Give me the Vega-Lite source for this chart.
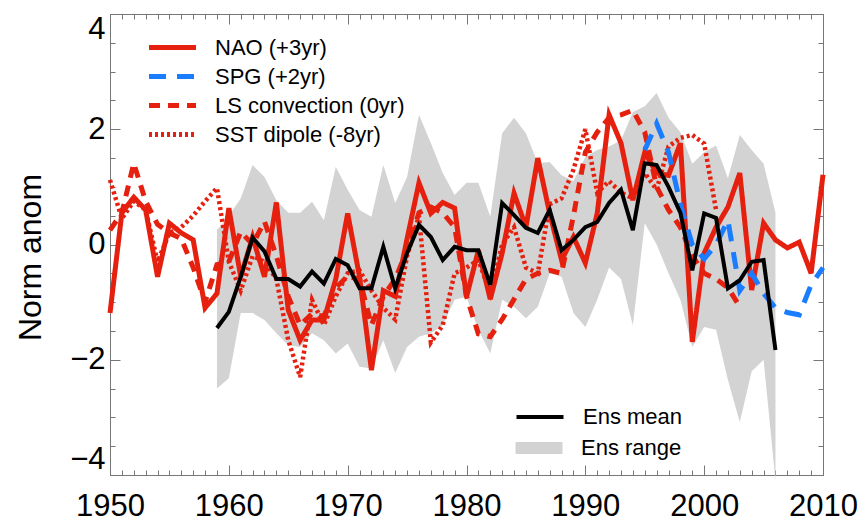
{
  "$schema": "https://vega.github.io/schema/vega-lite/v6.json",
  "width": 713,
  "height": 461,
  "autosize": {"type": "none"},
  "padding": {"left": 110, "top": 14, "right": 43, "bottom": 49},
  "background": "white",
  "config": {
    "view": {"stroke": "#777", "strokeWidth": 1},
    "font": "Liberation Sans",
    "axis": {"domain": false, "grid": false, "tickColor": "#777", "tickWidth": 1, "labelColor": "black", "labelFont": "Liberation Sans", "labelFontSize": 31, "titleFont": "Liberation Sans", "titleFontSize": 32, "titleFontWeight": "normal", "titleColor": "black"},
    "legend": {"labelFont": "Liberation Sans", "labelFontSize": 22, "labelColor": "black", "padding": 0, "labelLimit": 0}
  },
  "datasets": {
    "idx": [
      {"year":1950,"value":-1.19,"series":"NAO (+3yr)"},{"year":1951,"value":0.55,"series":"NAO (+3yr)"},{"year":1952,"value":0.82,"series":"NAO (+3yr)"},{"year":1953,"value":0.6,"series":"NAO (+3yr)"},{"year":1954,"value":-0.56,"series":"NAO (+3yr)"},{"year":1955,"value":0.37,"series":"NAO (+3yr)"},{"year":1956,"value":0.2,"series":"NAO (+3yr)"},{"year":1957,"value":0.08,"series":"NAO (+3yr)"},{"year":1958,"value":-1.1,"series":"NAO (+3yr)"},{"year":1959,"value":-0.85,"series":"NAO (+3yr)"},
      {"year":1960,"value":0.63,"series":"NAO (+3yr)"},{"year":1961,"value":-0.56,"series":"NAO (+3yr)"},{"year":1962,"value":0.13,"series":"NAO (+3yr)"},{"year":1963,"value":-0.56,"series":"NAO (+3yr)"},{"year":1964,"value":0.73,"series":"NAO (+3yr)"},{"year":1965,"value":-1.14,"series":"NAO (+3yr)"},{"year":1966,"value":-1.66,"series":"NAO (+3yr)"},{"year":1967,"value":-1.31,"series":"NAO (+3yr)"},{"year":1968,"value":-1.31,"series":"NAO (+3yr)"},{"year":1969,"value":-0.6,"series":"NAO (+3yr)"},
      {"year":1970,"value":0.54,"series":"NAO (+3yr)"},{"year":1971,"value":-0.56,"series":"NAO (+3yr)"},{"year":1972,"value":-2.18,"series":"NAO (+3yr)"},{"year":1973,"value":-0.8,"series":"NAO (+3yr)"},{"year":1974,"value":-0.9,"series":"NAO (+3yr)"},{"year":1975,"value":0.1,"series":"NAO (+3yr)"},{"year":1976,"value":1.07,"series":"NAO (+3yr)"},{"year":1977,"value":0.54,"series":"NAO (+3yr)"},{"year":1978,"value":0.73,"series":"NAO (+3yr)"},{"year":1979,"value":0.63,"series":"NAO (+3yr)"},
      {"year":1980,"value":-0.91,"series":"NAO (+3yr)"},{"year":1981,"value":-0.1,"series":"NAO (+3yr)"},{"year":1982,"value":-0.95,"series":"NAO (+3yr)"},{"year":1983,"value":-0.15,"series":"NAO (+3yr)"},{"year":1984,"value":0.89,"series":"NAO (+3yr)"},{"year":1985,"value":0.3,"series":"NAO (+3yr)"},{"year":1986,"value":1.5,"series":"NAO (+3yr)"},{"year":1987,"value":0.54,"series":"NAO (+3yr)"},{"year":1988,"value":-0.27,"series":"NAO (+3yr)"},{"year":1989,"value":0.13,"series":"NAO (+3yr)"},
      {"year":1990,"value":-0.32,"series":"NAO (+3yr)"},{"year":1991,"value":0.54,"series":"NAO (+3yr)"},{"year":1992,"value":2.25,"series":"NAO (+3yr)"},{"year":1993,"value":1.76,"series":"NAO (+3yr)"},{"year":1994,"value":0.77,"series":"NAO (+3yr)"},{"year":1995,"value":1.6,"series":"NAO (+3yr)"},{"year":1996,"value":1.24,"series":"NAO (+3yr)"},{"year":1997,"value":1.2,"series":"NAO (+3yr)"},{"year":1998,"value":1.76,"series":"NAO (+3yr)"},{"year":1999,"value":-1.69,"series":"NAO (+3yr)"},
      {"year":2000,"value":-0.15,"series":"NAO (+3yr)"},{"year":2001,"value":0.3,"series":"NAO (+3yr)"},{"year":2002,"value":0.65,"series":"NAO (+3yr)"},{"year":2003,"value":1.24,"series":"NAO (+3yr)"},{"year":2004,"value":-0.79,"series":"NAO (+3yr)"},{"year":2005,"value":0.37,"series":"NAO (+3yr)"},{"year":2006,"value":0.08,"series":"NAO (+3yr)"},{"year":2007,"value":-0.06,"series":"NAO (+3yr)"},{"year":2008,"value":0.04,"series":"NAO (+3yr)"},{"year":2009,"value":-0.5,"series":"NAO (+3yr)"},{"year":2010,"value":1.21,"series":"NAO (+3yr)"},

      {"year":1995,"value":1.64,"series":"SPG (+2yr)"},{"year":1996,"value":2.1,"series":"SPG (+2yr)"},{"year":1997,"value":1.6,"series":"SPG (+2yr)"},{"year":1998,"value":0.7,"series":"SPG (+2yr)"},{"year":1999,"value":0.0,"series":"SPG (+2yr)"},{"year":2000,"value":-0.25,"series":"SPG (+2yr)"},{"year":2001,"value":0.0,"series":"SPG (+2yr)"},{"year":2002,"value":0.42,"series":"SPG (+2yr)"},{"year":2003,"value":-0.8,"series":"SPG (+2yr)"},{"year":2004,"value":-0.5,"series":"SPG (+2yr)"},{"year":2005,"value":-0.85,"series":"SPG (+2yr)"},{"year":2006,"value":-1.1,"series":"SPG (+2yr)"},{"year":2007,"value":-1.18,"series":"SPG (+2yr)"},{"year":2008,"value":-1.22,"series":"SPG (+2yr)"},{"year":2009,"value":-0.7,"series":"SPG (+2yr)"},{"year":2010,"value":-0.4,"series":"SPG (+2yr)"},

      {"year":1950,"value":0.25,"series":"LS convection (0yr)"},{"year":1951,"value":0.55,"series":"LS convection (0yr)"},{"year":1952,"value":1.41,"series":"LS convection (0yr)"},{"year":1953,"value":0.75,"series":"LS convection (0yr)"},{"year":1954,"value":0.35,"series":"LS convection (0yr)"},{"year":1955,"value":0.2,"series":"LS convection (0yr)"},{"year":1956,"value":0.1,"series":"LS convection (0yr)"},{"year":1957,"value":-0.4,"series":"LS convection (0yr)"},{"year":1958,"value":-1.0,"series":"LS convection (0yr)"},{"year":1959,"value":-0.35,"series":"LS convection (0yr)"},
      {"year":1960,"value":-0.3,"series":"LS convection (0yr)"},{"year":1961,"value":0.22,"series":"LS convection (0yr)"},{"year":1962,"value":0.0,"series":"LS convection (0yr)"},{"year":1963,"value":0.4,"series":"LS convection (0yr)"},{"year":1964,"value":-0.2,"series":"LS convection (0yr)"},{"year":1965,"value":-0.9,"series":"LS convection (0yr)"},{"year":1966,"value":-1.4,"series":"LS convection (0yr)"},{"year":1967,"value":-1.2,"series":"LS convection (0yr)"},{"year":1968,"value":-1.25,"series":"LS convection (0yr)"},{"year":1969,"value":-0.75,"series":"LS convection (0yr)"},
      {"year":1970,"value":-0.55,"series":"LS convection (0yr)"},{"year":1971,"value":-0.6,"series":"LS convection (0yr)"},{"year":1972,"value":-1.4,"series":"LS convection (0yr)"},{"year":1973,"value":-0.9,"series":"LS convection (0yr)"},{"year":1974,"value":-0.6,"series":"LS convection (0yr)"},{"year":1975,"value":-0.1,"series":"LS convection (0yr)"},{"year":1976,"value":0.55,"series":"LS convection (0yr)"},{"year":1977,"value":0.65,"series":"LS convection (0yr)"},{"year":1978,"value":0.55,"series":"LS convection (0yr)"},{"year":1979,"value":0.3,"series":"LS convection (0yr)"},
      {"year":1980,"value":-0.9,"series":"LS convection (0yr)"},{"year":1981,"value":-1.55,"series":"LS convection (0yr)"},{"year":1982,"value":-1.6,"series":"LS convection (0yr)"},{"year":1983,"value":-1.3,"series":"LS convection (0yr)"},{"year":1984,"value":-0.95,"series":"LS convection (0yr)"},{"year":1985,"value":-0.6,"series":"LS convection (0yr)"},{"year":1986,"value":-0.5,"series":"LS convection (0yr)"},{"year":1987,"value":-0.45,"series":"LS convection (0yr)"},{"year":1988,"value":-0.5,"series":"LS convection (0yr)"},{"year":1989,"value":0.5,"series":"LS convection (0yr)"},
      {"year":1990,"value":1.6,"series":"LS convection (0yr)"},{"year":1991,"value":1.95,"series":"LS convection (0yr)"},{"year":1992,"value":2.2,"series":"LS convection (0yr)"},{"year":1993,"value":2.25,"series":"LS convection (0yr)"},{"year":1994,"value":2.33,"series":"LS convection (0yr)"},{"year":1995,"value":1.95,"series":"LS convection (0yr)"},{"year":1996,"value":1.0,"series":"LS convection (0yr)"},{"year":1997,"value":0.6,"series":"LS convection (0yr)"},{"year":1998,"value":0.3,"series":"LS convection (0yr)"},{"year":1999,"value":-0.2,"series":"LS convection (0yr)"},
      {"year":2000,"value":-0.5,"series":"LS convection (0yr)"},{"year":2001,"value":-0.6,"series":"LS convection (0yr)"},{"year":2002,"value":-0.75,"series":"LS convection (0yr)"},{"year":2003,"value":-1.08,"series":"LS convection (0yr)"},

      {"year":1950,"value":1.12,"series":"SST dipole (-8yr)"},{"year":1951,"value":0.45,"series":"SST dipole (-8yr)"},{"year":1952,"value":0.75,"series":"SST dipole (-8yr)"},{"year":1953,"value":0.6,"series":"SST dipole (-8yr)"},{"year":1954,"value":-0.3,"series":"SST dipole (-8yr)"},{"year":1955,"value":0.2,"series":"SST dipole (-8yr)"},{"year":1956,"value":0.3,"series":"SST dipole (-8yr)"},{"year":1957,"value":0.5,"series":"SST dipole (-8yr)"},{"year":1958,"value":0.75,"series":"SST dipole (-8yr)"},{"year":1959,"value":0.98,"series":"SST dipole (-8yr)"},
      {"year":1960,"value":-0.3,"series":"SST dipole (-8yr)"},{"year":1961,"value":-0.8,"series":"SST dipole (-8yr)"},{"year":1962,"value":-0.2,"series":"SST dipole (-8yr)"},{"year":1963,"value":-0.3,"series":"SST dipole (-8yr)"},{"year":1964,"value":-0.6,"series":"SST dipole (-8yr)"},{"year":1965,"value":-1.66,"series":"SST dipole (-8yr)"},{"year":1966,"value":-2.3,"series":"SST dipole (-8yr)"},{"year":1967,"value":-0.96,"series":"SST dipole (-8yr)"},{"year":1968,"value":-1.4,"series":"SST dipole (-8yr)"},{"year":1969,"value":-0.9,"series":"SST dipole (-8yr)"},
      {"year":1970,"value":-0.5,"series":"SST dipole (-8yr)"},{"year":1971,"value":-0.45,"series":"SST dipole (-8yr)"},{"year":1972,"value":-0.8,"series":"SST dipole (-8yr)"},{"year":1973,"value":-1.1,"series":"SST dipole (-8yr)"},{"year":1974,"value":-1.3,"series":"SST dipole (-8yr)"},{"year":1975,"value":-0.2,"series":"SST dipole (-8yr)"},{"year":1976,"value":0.5,"series":"SST dipole (-8yr)"},{"year":1977,"value":-1.7,"series":"SST dipole (-8yr)"},{"year":1978,"value":-1.4,"series":"SST dipole (-8yr)"},{"year":1979,"value":-0.5,"series":"SST dipole (-8yr)"},
      {"year":1980,"value":-0.4,"series":"SST dipole (-8yr)"},{"year":1981,"value":-0.27,"series":"SST dipole (-8yr)"},{"year":1982,"value":-0.85,"series":"SST dipole (-8yr)"},{"year":1983,"value":0.0,"series":"SST dipole (-8yr)"},{"year":1984,"value":0.3,"series":"SST dipole (-8yr)"},{"year":1985,"value":-0.4,"series":"SST dipole (-8yr)"},{"year":1986,"value":-0.5,"series":"SST dipole (-8yr)"},{"year":1987,"value":0.7,"series":"SST dipole (-8yr)"},{"year":1988,"value":0.8,"series":"SST dipole (-8yr)"},{"year":1989,"value":1.3,"series":"SST dipole (-8yr)"},
      {"year":1990,"value":2.0,"series":"SST dipole (-8yr)"},{"year":1991,"value":0.9,"series":"SST dipole (-8yr)"},{"year":1992,"value":1.1,"series":"SST dipole (-8yr)"},{"year":1993,"value":0.9,"series":"SST dipole (-8yr)"},{"year":1994,"value":0.8,"series":"SST dipole (-8yr)"},{"year":1995,"value":1.24,"series":"SST dipole (-8yr)"},{"year":1996,"value":0.95,"series":"SST dipole (-8yr)"},{"year":1997,"value":1.7,"series":"SST dipole (-8yr)"},{"year":1998,"value":1.85,"series":"SST dipole (-8yr)"},{"year":1999,"value":1.9,"series":"SST dipole (-8yr)"},
      {"year":2000,"value":1.75,"series":"SST dipole (-8yr)"},{"year":2001,"value":0.6,"series":"SST dipole (-8yr)"}
    ],
    "ens": [
      {"year":1959,"mean":-1.45,"lo":-2.5,"hi":0.25},{"year":1960,"mean":-1.17,"lo":-2.32,"hi":0.5},{"year":1961,"mean":-0.56,"lo":-1.19,"hi":0.8},{"year":1962,"mean":0.12,"lo":-1.19,"hi":1.38},{"year":1963,"mean":-0.12,"lo":-1.31,"hi":1.17},{"year":1964,"mean":-0.6,"lo":-1.54,"hi":0.77},{"year":1965,"mean":-0.6,"lo":-1.75,"hi":0.55},{"year":1966,"mean":-0.73,"lo":-1.78,"hi":0.55},{"year":1967,"mean":-0.47,"lo":-1.54,"hi":0.74},{"year":1968,"mean":-0.68,"lo":-1.66,"hi":0.42},
      {"year":1969,"mean":-0.25,"lo":-1.89,"hi":1.35},{"year":1970,"mean":-0.36,"lo":-1.72,"hi":0.95},{"year":1971,"mean":-0.76,"lo":-2.12,"hi":0.6},{"year":1972,"mean":-0.76,"lo":-2.15,"hi":0.48},{"year":1973,"mean":-0.04,"lo":-1.66,"hi":1.38},{"year":1974,"mean":-0.76,"lo":-2.23,"hi":0.72},{"year":1975,"mean":-0.15,"lo":-1.78,"hi":1.17},{"year":1976,"mean":0.34,"lo":-1.6,"hi":2.25},{"year":1977,"mean":0.13,"lo":-1.54,"hi":1.76},{"year":1978,"mean":-0.27,"lo":-1.4,"hi":1.24},
      {"year":1979,"mean":-0.04,"lo":-0.96,"hi":0.86},{"year":1980,"mean":-0.1,"lo":-0.91,"hi":1.07},{"year":1981,"mean":-0.1,"lo":-1.48,"hi":1.07},{"year":1982,"mean":-0.7,"lo":-1.89,"hi":0.48},{"year":1983,"mean":0.72,"lo":-0.96,"hi":1.93},{"year":1984,"mean":0.51,"lo":-1.08,"hi":2.2},{"year":1985,"mean":0.29,"lo":-1.28,"hi":1.93},{"year":1986,"mean":0.2,"lo":-1.08,"hi":1.41},{"year":1987,"mean":0.6,"lo":-0.5,"hi":1.43},{"year":1988,"mean":-0.1,"lo":-0.56,"hi":1.2},
      {"year":1989,"mean":0.08,"lo":-1.19,"hi":1.1},{"year":1990,"mean":0.3,"lo":-1.43,"hi":1.52},{"year":1991,"mean":0.39,"lo":-0.96,"hi":1.64},{"year":1992,"mean":0.72,"lo":-0.4,"hi":1.7},{"year":1993,"mean":0.95,"lo":-0.6,"hi":1.81},{"year":1994,"mean":0.25,"lo":-1.4,"hi":2.3},{"year":1995,"mean":1.41,"lo":0.37,"hi":2.4},{"year":1996,"mean":1.38,"lo":0.0,"hi":2.63},{"year":1997,"mean":1.0,"lo":-0.5,"hi":2.2},{"year":1998,"mean":0.55,"lo":-0.96,"hi":1.95},
      {"year":1999,"mean":-0.45,"lo":-1.78,"hi":1.4},{"year":2000,"mean":0.54,"lo":-1.43,"hi":1.6},{"year":2001,"mean":0.46,"lo":-1.48,"hi":1.72},{"year":2002,"mean":-0.76,"lo":-2.35,"hi":1.15},{"year":2003,"mean":-0.62,"lo":-3.08,"hi":1.9},{"year":2004,"mean":-0.3,"lo":-2.2,"hi":1.64},{"year":2005,"mean":-0.27,"lo":-2.0,"hi":1.4},{"year":2006,"mean":-1.83,"lo":-4.1,"hi":0.55}
    ]
  },
  "layer": [
    {
      "data": {"name": "ens"},
      "mark": {"type": "area", "opacity": 1},
      "encoding": {
        "x": {"field": "year", "type": "quantitative", "scale": {"domain": [1950, 2010], "nice": false, "zero": false},
              "axis": {"orient": "bottom", "values": [1950,1960,1970,1980,1990,2000,2010], "format": "d", "tickSize": -10, "labelPadding": 26, "labelFlush": false, "labelOverlap": false, "title": null}},
        "y": {"field": "lo", "type": "quantitative", "scale": {"domain": [-4, 4], "nice": false, "zero": false},
              "axis": {"orient": "left", "values": [-4,-2,0,2,4], "format": "d", "tickSize": -10, "labelPadding": 15, "labelFlush": true, "labelOverlap": false, "title": "Norm anom", "titleAngle": -90, "titleX": -80, "titleY": 243, "titleAlign": "center", "titleBaseline": "middle"}},
        "y2": {"field": "hi"},
        "fill": {"datum": "Ens range", "type": "nominal", "scale": {"range": ["#d3d3d3"]},
                 "legend": {"orient": "none", "legendX": 418, "legendY": 423, "title": null, "symbolType": "M-2.35,-0.6H2.35V0.6H-2.35Z", "symbolSize": 400, "symbolStrokeWidth": 0, "labelOffset": 31}}
      }
    },
    {
      "mark": {"type": "rule", "color": "#999", "strokeWidth": 1},
      "encoding": {"y": {"datum": 0, "type": "quantitative", "scale": {"domain": [-4, 4], "nice": false, "zero": false}, "axis": null}}
    },
    {
      "data": {"name": "idx"},
      "transform": [{"filter": "datum.series === 'SST dipole (-8yr)'"}],
      "mark": {"type": "line", "strokeWidth": 4.5},
      "encoding": {
        "x": {"field": "year", "type": "quantitative", "scale": {"domain": [1950, 2010], "nice": false, "zero": false},
              "axis": {"orient": "bottom", "tickCount": 60, "tickSize": -5, "labels": false, "title": null}},
        "y": {"field": "value", "type": "quantitative", "scale": {"domain": [-4, 4], "nice": false, "zero": false},
              "axis": {"orient": "left", "tickCount": 16, "tickSize": -5, "labels": false, "title": null}},
        "color": {"field": "series", "type": "nominal", "scale": {"domain": ["NAO (+3yr)", "SPG (+2yr)", "LS convection (0yr)", "SST dipole (-8yr)"], "range": ["#e5200e", "#1a7dff", "#e5200e", "#e5200e"]},
                  "legend": {"orient": "none", "legendX": 50, "legendY": 21, "title": null, "symbolType": "M-2.35,0H2.35", "symbolSize": 400, "symbolStrokeWidth": 5, "labelOffset": 30, "rowPadding": 5}},
        "strokeDash": {"field": "series", "type": "nominal", "scale": {"domain": ["NAO (+3yr)", "SPG (+2yr)", "LS convection (0yr)", "SST dipole (-8yr)"], "range": [[1, 0], [17, 11], [11, 8], [3, 3]]},
                  "legend": {"orient": "none", "legendX": 50, "legendY": 21, "title": null, "symbolType": "M-2.35,0H2.35", "symbolSize": 400, "symbolStrokeWidth": 5, "labelOffset": 30, "rowPadding": 5}}
      }
    },
    {
      "data": {"name": "idx"},
      "transform": [{"filter": "datum.series === 'LS convection (0yr)'"}],
      "mark": {"type": "line", "strokeWidth": 5},
      "encoding": {
        "x": {"field": "year", "type": "quantitative", "scale": {"domain": [1950, 2010], "nice": false, "zero": false},
              "axis": {"orient": "top", "values": [1950,1960,1970,1980,1990,2000,2010], "tickSize": -10, "labels": false, "title": null}},
        "y": {"field": "value", "type": "quantitative", "scale": {"domain": [-4, 4], "nice": false, "zero": false},
              "axis": {"orient": "right", "values": [-4,-2,0,2,4], "tickSize": -10, "labels": false, "title": null}},
        "color": {"field": "series", "type": "nominal"},
        "strokeDash": {"field": "series", "type": "nominal"}
      }
    },
    {
      "data": {"name": "idx"},
      "transform": [{"filter": "datum.series === 'NAO (+3yr)'"}],
      "mark": {"type": "line", "strokeWidth": 5},
      "encoding": {
        "x": {"field": "year", "type": "quantitative", "scale": {"domain": [1950, 2010], "nice": false, "zero": false},
              "axis": {"orient": "top", "tickCount": 60, "tickSize": -5, "labels": false, "title": null}},
        "y": {"field": "value", "type": "quantitative", "scale": {"domain": [-4, 4], "nice": false, "zero": false},
              "axis": {"orient": "right", "tickCount": 16, "tickSize": -5, "labels": false, "title": null}},
        "color": {"field": "series", "type": "nominal"},
        "strokeDash": {"field": "series", "type": "nominal"}
      }
    },
    {
      "data": {"name": "idx"},
      "transform": [{"filter": "datum.series === 'SPG (+2yr)'"}],
      "mark": {"type": "line", "strokeWidth": 5},
      "encoding": {
        "x": {"field": "year", "type": "quantitative", "scale": {"domain": [1950, 2010], "nice": false, "zero": false}, "axis": null},
        "y": {"field": "value", "type": "quantitative", "scale": {"domain": [-4, 4], "nice": false, "zero": false}, "axis": null},
        "color": {"field": "series", "type": "nominal"},
        "strokeDash": {"field": "series", "type": "nominal"}
      }
    },
    {
      "data": {"name": "ens"},
      "mark": {"type": "line", "strokeWidth": 4},
      "encoding": {
        "x": {"field": "year", "type": "quantitative", "scale": {"domain": [1950, 2010], "nice": false, "zero": false}, "axis": null},
        "y": {"field": "mean", "type": "quantitative", "scale": {"domain": [-4, 4], "nice": false, "zero": false}, "axis": null},
        "stroke": {"datum": "Ens mean", "type": "nominal", "scale": {"range": ["black"]},
                   "legend": {"orient": "none", "legendX": 418, "legendY": 391, "title": null, "symbolType": "M-2.35,0H2.35", "symbolSize": 400, "symbolStrokeWidth": 4, "labelOffset": 31}}
      }
    }
  ],
  "resolve": {"axis": {"x": "independent", "y": "independent"}}
}
